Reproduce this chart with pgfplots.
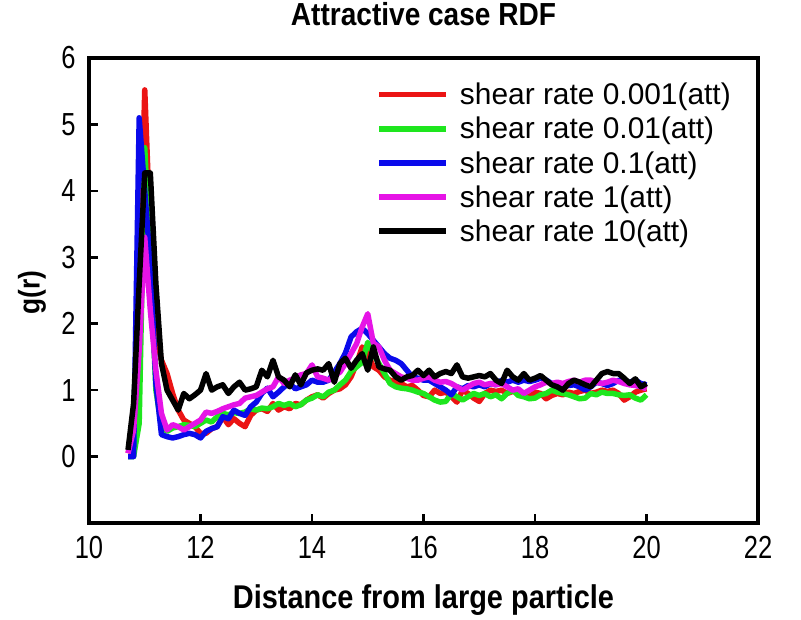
\documentclass[border=0pt]{standalone}
\usepackage{fontspec}
\setmainfont{Liberation Sans}
\newfontfamily\condfont[FakeStretch=0.8]{Liberation Sans}
\newfontfamily\labfont[FakeStretch=0.88]{Liberation Sans}
\usepackage{pgfplots}
\usepackage{pgfplotstable}
\pgfplotsset{compat=1.18}
\definecolor{cred}{RGB}{235,20,20}
\definecolor{cgreen}{RGB}{30,230,30}
\definecolor{cblue}{RGB}{10,10,235}
\definecolor{cmag}{RGB}{230,20,230}
\pgfplotstableread{
x r g b m k
10.7 0.05 0 0 0.05 0.1
10.8 0.3 0 0 0.4 0.8
10.9 2.2 0.5 5.1 1.6 2.6
11.0 5.52 4.65 4.0 3.3 4.27
11.1 3.3 2.9 2.9 2.2 4.27
11.2 1.8 1.0 1.1 1.3 2.6
11.3 1.45 0.45 0.33 0.65 1.4
11.4 1.25 0.38 0.3 0.4 1.0
11.5 0.95 0.43 0.28 0.48 0.85
11.6 0.7 0.45 0.3 0.45 0.7
11.7 0.55 0.48 0.33 0.4 0.95
11.8 0.5 0.47 0.35 0.45 0.87
11.9 0.45 0.45 0.33 0.5 0.93
12.0 0.35 0.5 0.28 0.55 1.0
12.1 0.35 0.55 0.38 0.67 1.25
12.2 0.42 0.52 0.42 0.65 1.0
12.3 0.45 0.6 0.45 0.68 1.05
12.4 0.6 0.65 0.6 0.72 1.08
12.5 0.48 0.63 0.57 0.75 0.95
12.6 0.57 0.66 0.7 0.78 1.05
12.7 0.5 0.65 0.65 0.8 1.12
12.8 0.45 0.67 0.62 0.88 1.0
12.9 0.62 0.72 0.75 0.9 1.02
13.0 0.7 0.7 0.82 0.92 1.05
13.1 0.72 0.73 0.95 0.97 1.3
13.2 0.68 0.72 1.03 1.02 1.2
13.3 0.8 0.75 0.9 1.05 1.45
13.4 0.7 0.8 0.97 1.2 1.2
13.5 0.75 0.77 1.05 1.1 1.15
13.6 0.72 0.8 1.1 1.15 1.05
13.7 0.8 0.75 1.02 1.18 1.23
13.8 0.78 0.78 1.05 1.23 1.08
13.9 0.85 0.85 1.08 1.25 1.26
14.0 0.9 0.88 1.15 1.38 1.3
14.1 0.93 0.93 1.12 1.2 1.32
14.2 0.88 0.9 1.12 1.18 1.3
14.3 0.95 0.97 1.15 1.15 1.4
14.4 1.0 1.0 1.27 1.22 1.12
14.5 1.02 1.08 1.4 1.27 1.4
14.6 1.08 1.15 1.56 1.4 1.48
14.7 1.2 1.28 1.8 1.55 1.33
14.8 1.4 1.35 1.88 1.7 1.45
14.9 1.65 1.42 1.93 1.95 1.55
15.0 1.55 1.72 1.85 2.15 1.3
15.1 1.35 1.55 1.75 1.71 1.65
15.2 1.3 1.4 1.65 1.65 1.35
15.3 1.2 1.25 1.55 1.45 1.32
15.4 1.15 1.1 1.48 1.3 1.3
15.5 1.12 1.05 1.45 1.25 1.2
15.6 1.1 1.03 1.4 1.2 1.15
15.7 1.05 1.02 1.3 1.18 1.2
15.8 1.07 1.0 1.2 1.15 1.22
15.9 1.0 0.97 1.18 1.15 1.3
16.0 0.92 0.95 1.15 1.18 1.22
16.1 0.9 0.9 1.15 1.2 1.3
16.2 1.0 0.85 1.1 1.15 1.2
16.3 0.95 0.82 1.05 1.12 1.25
16.4 0.97 0.83 1.0 1.13 1.28
16.5 0.9 0.95 0.93 1.1 1.25
16.6 0.82 0.9 1.05 1.05 1.38
16.7 1.0 0.85 1.02 1.0 1.2
16.8 0.95 0.9 1.07 1.05 1.18
16.9 0.88 0.95 1.05 1.1 1.2
17.0 0.83 0.92 1.08 1.12 1.22
17.1 0.95 0.95 1.05 1.08 1.2
17.2 1.0 0.9 1.1 1.1 1.25
17.3 0.98 0.93 1.08 1.08 1.15
17.4 1.0 0.87 1.15 1.1 1.1
17.5 0.95 0.95 1.12 1.05 1.3
17.6 0.98 1.0 1.15 1.0 1.2
17.7 1.0 0.92 1.12 1.02 1.15
17.8 0.93 0.9 1.15 0.95 1.25
17.9 0.9 0.87 1.13 1.0 1.15
18.0 0.97 0.88 1.15 1.05 1.18
18.1 0.95 0.93 1.18 1.08 1.22
18.2 0.87 0.95 1.15 1.12 1.15
18.3 0.92 1.0 1.1 1.1 1.08
18.4 0.95 0.97 1.05 1.12 1.05
18.5 0.93 0.95 1.05 1.1 1.0
18.6 0.97 0.93 1.07 1.13 1.1
18.7 0.95 0.9 1.08 1.15 1.15
18.8 0.98 0.87 1.05 1.12 1.12
18.9 1.0 0.88 1.0 1.15 1.08
19.0 0.95 0.95 1.05 1.15 1.05
19.1 0.97 0.93 1.12 1.12 1.15
19.2 1.0 0.97 1.1 1.1 1.25
19.3 0.98 0.95 1.07 1.12 1.28
19.4 1.0 0.95 1.1 1.15 1.25
19.5 0.95 0.93 1.15 1.13 1.25
19.6 0.85 0.92 1.12 1.1 1.18
19.7 0.9 0.93 1.12 1.08 1.1
19.8 0.97 0.88 1.15 1.07 1.17
19.9 1.0 0.85 1.1 1.05 1.05
20.0 1.02 0.93 1.08 1.02 1.1
}\rdf
\begin{document}
\begin{tikzpicture}
\useasboundingbox (0,0) rectangle (801bp,620bp);
\begin{axis}[
  at={(89bp,97bp)}, anchor=south west,
  scale only axis, width=669bp, height=465bp,
  xmin=10, xmax=22, ymin=-1, ymax=6,
  clip=false,
  separate axis lines,
  every outer x axis line/.append style={line width=5pt},
  every outer y axis line/.append style={line width=5pt},
  xtick={10,12,...,22}, ytick={0,1,...,6},
  tick align=inside, tick pos=left,
  major tick length=9bp,
  every tick/.style={line width=2.5pt, black},
  /pgf/number format/assume math mode=true,
  ticklabel style={font=\condfont\fontsize{32}{34}\selectfont},
  xticklabel style={yshift=-10bp},
  yticklabel style={xshift=-10bp},
  title={\labfont\bfseries\fontsize{32}{35}\selectfont Attractive case RDF},
  title style={at={(0.5,1)}, anchor=center, yshift=38bp},
  xlabel={\labfont\bfseries\fontsize{33}{36}\selectfont Distance from large particle},
  xlabel style={at={(0.5,0)}, anchor=center, yshift=-77bp},
  ylabel={\labfont\bfseries\fontsize{30}{34}\selectfont g(r)},
  ylabel style={at={(0,0.495)}, anchor=center, yshift=57bp},
  legend style={at={(0.425,0.955)}, anchor=north west, draw=none, fill=none,
    font=\fontsize{30}{33}\selectfont, row sep=7bp, column sep=9bp},
  legend cell align=left,
  legend image code/.code={\draw[#1] (0bp,0bp) -- (67bp,0bp);},
  after end axis/.code={\draw[black, line width=5pt, line join=miter] (rel axis cs:0,0) rectangle (rel axis cs:1,1);},
]
\addplot[cred, line width=5.5pt, line join=round] table[x=x,y=r] {\rdf};
\addplot[cgreen, line width=5.5pt, line join=round] table[x=x,y=g] {\rdf};
\addplot[cblue, line width=5.5pt, line join=round] table[x=x,y=b] {\rdf};
\addplot[cmag, line width=5.5pt, line join=round] table[x=x,y=m] {\rdf};
\addplot[black, line width=5.5pt, line join=round] table[x=x,y=k] {\rdf};
\legend{shear rate 0.001(att), shear rate 0.01(att), shear rate 0.1(att), shear rate 1(att), shear rate 10(att)}
\end{axis}
\end{tikzpicture}
\end{document}
